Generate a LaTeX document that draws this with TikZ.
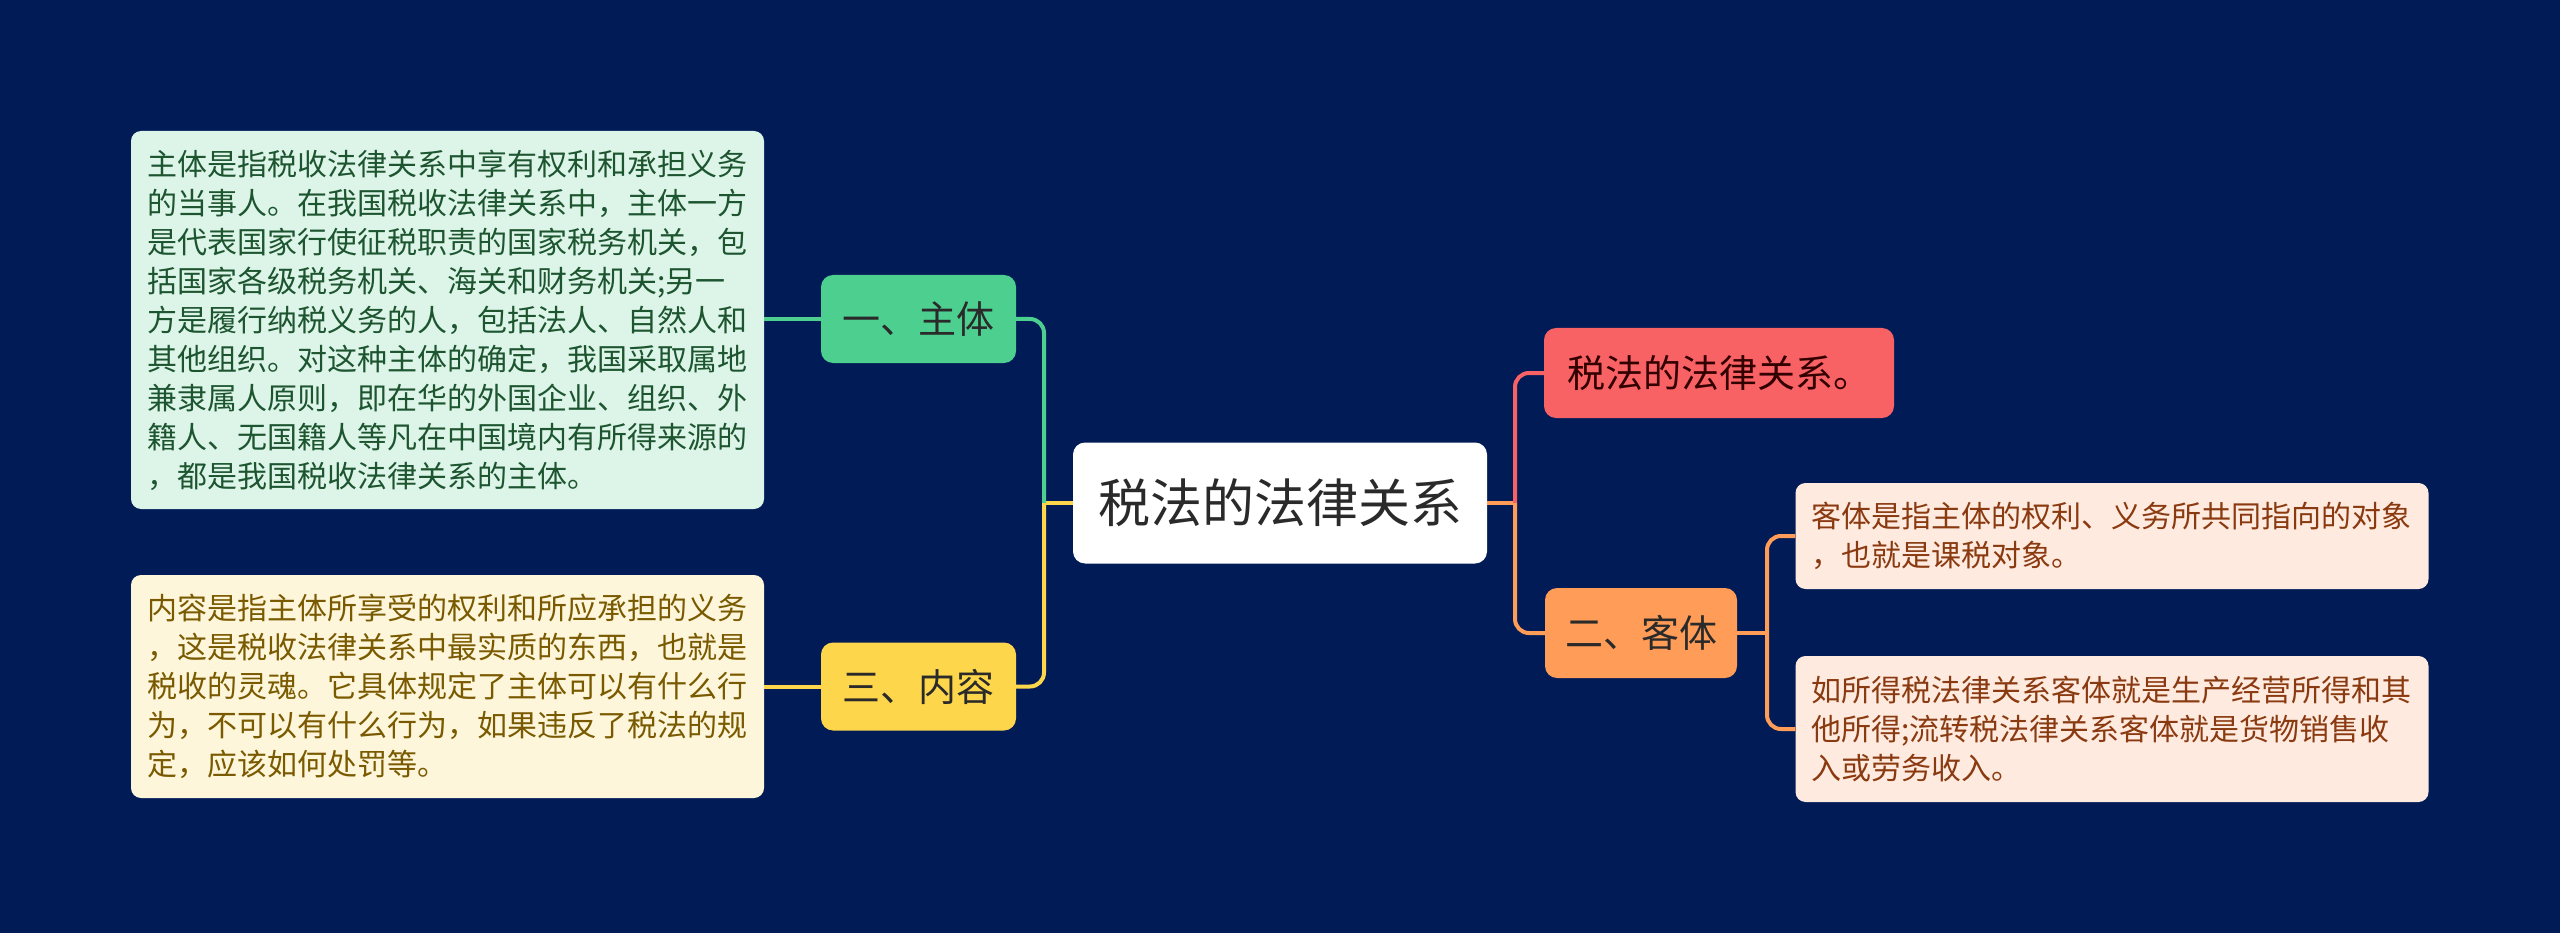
\documentclass[tikz,border=0pt]{standalone}
\usepackage{fontspec}
\setmainfont{Noto Sans CJK SC}
\definecolor{bg}{HTML}{011B57}
\definecolor{cgreen}{HTML}{4DCF90}
\definecolor{cyel}{HTML}{FDD64C}
\definecolor{cred}{HTML}{F86265}
\definecolor{corange}{HTML}{FF9C58}
\definecolor{lgreen}{HTML}{DDF5E8}
\definecolor{lyel}{HTML}{FEF6DA}
\definecolor{lorange}{HTML}{FFEADF}
\definecolor{tgreen}{HTML}{1D5530}
\definecolor{tyel}{HTML}{7A5A00}
\definecolor{torange}{HTML}{8A3A10}
\definecolor{tdark}{HTML}{2A2A2A}
\begin{document}
\begin{tikzpicture}[x=1pt,y=-1pt,
  box/.style={rounded corners=12pt, inner sep=0pt, align=center},
  rootbox/.style={box, fill=white, text=tdark, minimum width=414pt, minimum height=121pt, font=\fontsize{52}{62}\selectfont},
  lvlbox/.style={box, minimum height=88pt, text=tdark, font=\fontsize{38}{46}\selectfont},
  detail/.style={rounded corners=10pt, inner xsep=16pt, inner ysep=0pt, text width=601pt, align=left, font=\fontsize{30}{39}\selectfont},
  link/.style={line width=4pt, rounded corners=14pt}
]
\useasboundingbox[fill=bg] (0,0) rectangle (2560,933);

% nodes
\node[rootbox] (root) at (1280,503) {税法的法律关系};
\node[lvlbox, fill=cgreen, minimum width=195pt] (n1) at (918.5,319) {一、主体};
\node[lvlbox, fill=cyel, minimum width=195pt] (n3) at (918.5,686.5) {三、内容};
\node[lvlbox, fill=cred, minimum width=350pt, minimum height=90pt, text=black!80!red] (r1) at (1719,373) {税法的法律关系。};
\node[lvlbox, fill=corange, minimum width=192pt, minimum height=90pt] (n2) at (1641,633) {二、客体};

\node[detail, fill=lgreen, text=tgreen, minimum height=378pt] (d1) at (447.5,320) {主体是指税收法律关系中享有权利和承担义务\\的当事人。在我国税收法律关系中，主体一方\\是代表国家行使征税职责的国家税务机关，包\\括国家各级税务机关、海关和财务机关;另一\\方是履行纳税义务的人，包括法人、自然人和\\其他组织。对这种主体的确定，我国采取属地\\兼隶属人原则，即在华的外国企业、组织、外\\籍人、无国籍人等凡在中国境内有所得来源的\\，都是我国税收法律关系的主体。};
\node[detail, fill=lyel, text=tyel, minimum height=223pt] (d3) at (447.5,686.5) {内容是指主体所享受的权利和所应承担的义务\\，这是税收法律关系中最实质的东西，也就是\\税收的灵魂。它具体规定了主体可以有什么行\\为，不可以有什么行为，如果违反了税法的规\\定，应该如何处罚等。};
\node[detail, fill=lorange, text=torange, minimum height=106pt] (d2a) at (2112,536) {客体是指主体的权利、义务所共同指向的对象\\，也就是课税对象。};
\node[detail, fill=lorange, text=torange, minimum height=146pt] (d2b) at (2112,729) {如所得税法律关系客体就是生产经营所得和其\\他所得;流转税法律关系客体就是货物销售收\\入或劳务收入。};

% connectors left
\coordinate (tl) at (1044,503);
\draw[link, draw=cyel] (root.west) -- (tl);
\draw[link, draw=cgreen] (tl) |- (n1.east);
\draw[link, draw=cyel] (tl) |- (n3.east);
\draw[link, draw=cgreen] (n1.west) -- (d1.east |- n1.west);
\draw[link, draw=cyel] (n3.west) -- (d3.east |- n3.west);

% connectors right
\coordinate (tr) at (1515,503);
\draw[link, draw=corange] (root.east) -- (tr);
\draw[link, draw=cred] (tr) |- (r1.west);
\draw[link, draw=corange] (tr) |- (n2.west);
\coordinate (tr2) at (1767,633);
\draw[link, draw=corange] (n2.east) -- (tr2);
\draw[link, draw=corange] (tr2) |- (d2a.west);
\draw[link, draw=corange] (tr2) |- (d2b.west);
\end{tikzpicture}
\end{document}
